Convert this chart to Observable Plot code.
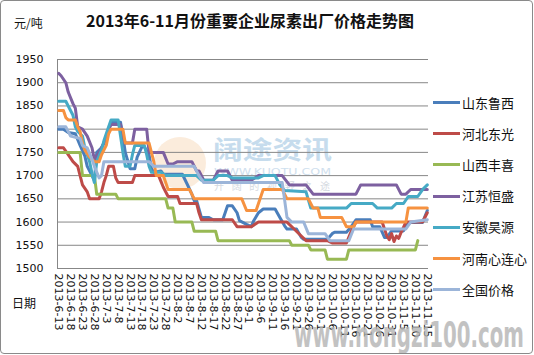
<!DOCTYPE html>
<html><head><meta charset="utf-8">
<script src="https://cdn.jsdelivr.net/npm/d3@7"></script>
<script src="https://cdn.jsdelivr.net/npm/@observablehq/plot@0.6"></script>
<style>
body{margin:0;background:#fff}
#wrap{position:relative;width:534px;height:355px;overflow:hidden;background:#fff}
#wrap svg{position:absolute;left:0;top:0}
.t{position:absolute;white-space:nowrap;font-family:"Noto Sans CJK SC","Noto Sans",sans-serif;color:#111}
#border{position:absolute;left:0;top:0;width:531px;height:352px;border:1px solid #8a8a8a;border-radius:4px;pointer-events:none}
.leg{position:absolute;left:433px;width:27px;height:3px}
</style></head><body>
<div id="wrap"></div>
<script>
const tickLabels = ["6-13","6-18","6-23","6-28","7-3","7-8","7-13","7-18","7-23","7-28","8-2","8-7","8-12","8-17","8-22","8-27","9-1","9-6","9-11","9-16","9-21","9-26","10-1","10-6","10-11","10-16","10-21","10-26","10-31","11-5","11-10","11-15"];
const yTicks = [1500,1550,1600,1650,1700,1750,1800,1850,1900,1950];
const seriesNames = ["山东鲁西","河北东光","山西丰喜","江苏恒盛","安徽昊源","河南心连心","全国价格"];
const seriesColors = ["#4a7ebb","#be4b48","#98b954","#7d60a0","#46aac5","#f69240","#9cb5d9"];

const shandong = [["6-13",1800],["6-15",1800],["6-17",1793],["6-20",1790],["6-22",1765],["6-24",1742],["6-25",1720],["6-27",1700],["6-28",1690],["6-29",1750],["7-1",1760],["7-2",1770],["7-4",1795],["7-5",1815],["7-9",1815],["7-10",1785],["7-11",1750],["7-13",1715],["7-15",1715],["7-16",1740],["7-18",1762],["7-19",1762],["7-21",1745],["7-22",1715],["7-23",1707],["7-26",1710],["7-27",1703],["8-4",1703],["8-6",1682],["8-8",1660],["8-9",1646],["8-10",1646],["8-12",1610],["8-15",1610],["8-17",1605],["8-21",1605],["8-22",1620],["8-23",1635],["8-25",1635],["8-27",1620],["8-28",1603],["8-31",1595],["9-2",1590],["9-3",1603],["9-5",1620],["9-7",1628],["9-12",1628],["9-14",1610],["9-16",1592],["9-17",1585],["9-21",1585],["9-23",1567],["9-24",1563],["10-4",1563],["10-6",1575],["10-7",1578],["10-12",1578],["10-14",1590],["10-16",1605],["10-22",1605],["10-23",1590],["10-26",1590],["10-28",1567],["10-29",1567],["10-31",1581],["11-5",1581],["11-7",1599],["11-13",1599],["11-15",1625]];
const hebei = [["6-13",1760],["6-15",1760],["6-17",1745],["6-19",1730],["6-21",1720],["6-22",1700],["6-23",1680],["6-25",1665],["6-26",1650],["6-30",1650],["7-1",1665],["7-2",1685],["7-3",1700],["7-4",1720],["7-6",1720],["7-7",1695],["7-8",1685],["7-14",1685],["7-15",1700],["7-25",1700],["7-27",1675],["7-29",1655],["8-2",1655],["8-3",1640],["8-10",1640],["8-11",1620],["8-12",1605],["8-25",1605],["8-27",1590],["9-2",1590],["9-5",1600],["9-17",1600],["9-20",1585],["9-23",1570],["9-25",1560],["10-4",1560],["10-6",1555],["10-12",1555],["10-14",1580],["10-16",1600],["10-27",1600],["10-29",1570],["10-30",1562],["10-31",1575],["11-1",1558],["11-2",1570],["11-3",1565],["11-4",1578],["11-6",1600],["11-13",1600],["11-15",1620]];
const shanxi = [["6-13",1750],["6-22",1750],["6-23",1700],["6-28",1700],["6-29",1660],["7-7",1660],["7-8",1650],["7-28",1650],["7-29",1630],["7-31",1630],["8-1",1600],["8-8",1600],["8-9",1580],["8-18",1580],["8-19",1560],["9-18",1560],["9-19",1550],["9-26",1550],["9-27",1540],["10-3",1540],["10-4",1520],["10-12",1520],["10-13",1540],["11-10",1540],["11-11",1560]];
const jiangsu = [["6-13",1920],["6-14",1915],["6-16",1900],["6-17",1880],["6-19",1855],["6-20",1845],["6-21",1805],["6-23",1800],["6-25",1785],["6-27",1760],["6-28",1735],["6-30",1750],["7-2",1770],["7-4",1800],["7-5",1810],["7-9",1810],["7-10",1785],["7-11",1770],["7-14",1770],["7-15",1800],["7-20",1800],["7-21",1750],["7-27",1750],["7-29",1725],["7-31",1725],["8-2",1730],["8-8",1730],["8-10",1710],["8-11",1710],["8-13",1690],["8-17",1690],["8-19",1710],["8-23",1710],["8-25",1690],["9-2",1690],["9-5",1700],["9-15",1700],["9-18",1680],["9-25",1680],["9-28",1660],["10-16",1660],["10-18",1680],["11-2",1680],["11-4",1660],["11-6",1660],["11-8",1670],["11-15",1670]];
const anhui = [["6-13",1860],["6-16",1860],["6-17",1850],["6-19",1830],["6-20",1805],["6-21",1795],["6-23",1785],["6-24",1760],["6-26",1730],["6-27",1705],["6-28",1685],["6-29",1730],["7-1",1755],["7-2",1775],["7-4",1805],["7-5",1820],["7-8",1820],["7-9",1785],["7-10",1750],["7-11",1720],["7-13",1720],["7-14",1745],["7-15",1765],["7-19",1765],["7-20",1745],["7-21",1720],["7-22",1707],["7-26",1707],["7-28",1700],["8-10",1700],["8-12",1690],["8-17",1690],["8-19",1700],["8-23",1700],["8-25",1695],["9-5",1695],["9-7",1700],["9-12",1700],["9-14",1680],["9-16",1668],["9-25",1665],["9-27",1630],["10-12",1630],["10-14",1640],["10-23",1640],["10-25",1630],["10-31",1630],["11-2",1640],["11-5",1640],["11-7",1655],["11-11",1655],["11-13",1670],["11-15",1680]];
const henan = [["6-13",1840],["6-15",1840],["6-16",1825],["6-17",1820],["6-20",1820],["6-21",1805],["6-22",1795],["6-23",1770],["6-24",1755],["6-26",1740],["6-28",1730],["6-30",1730],["7-1",1745],["7-3",1765],["7-4",1790],["7-5",1800],["7-10",1800],["7-11",1770],["7-21",1770],["7-22",1750],["7-23",1730],["7-24",1700],["7-27",1700],["7-29",1670],["8-7",1670],["8-9",1650],["8-29",1650],["8-31",1625],["9-4",1625],["9-7",1670],["9-15",1670],["9-17",1650],["9-26",1650],["9-28",1630],["9-30",1630],["10-1",1610],["10-10",1610],["10-12",1590],["10-15",1590],["10-16",1600],["11-6",1600],["11-7",1630],["11-15",1630]];
const national = [["6-13",1805],["6-16",1805],["6-18",1785],["6-22",1780],["6-23",1765],["6-25",1760],["6-27",1735],["6-28",1720],["6-30",1695],["7-1",1700],["7-2",1730],["7-21",1730],["7-23",1720],["8-9",1720],["8-11",1700],["8-13",1685],["9-15",1685],["9-17",1610],["9-19",1600],["9-24",1600],["9-26",1575],["10-3",1575],["10-5",1560],["10-13",1560],["10-15",1585],["11-6",1585],["11-8",1600],["11-15",1605]];

const seriesData = [shandong, hebei, shanxi, jiangsu, anhui, henan, national];
const parse = s => { const [m, d] = s.split("-").map(Number); return new Date(Date.UTC(2013, m - 1, d)); };
const rows = [];
seriesData.forEach((arr, i) => arr.forEach(([d, v]) => rows.push({series: seriesNames[i], date: parse(d), value: v})));

const chart = Plot.plot({
  width: 534, height: 355,
  marginLeft: 57, marginRight: 106, marginTop: 59, marginBottom: 87,
  style: {fontFamily: "DejaVu Sans", fontSize: "11px", color: "#111", background: "transparent", overflow: "visible"},
  x: {type: "utc", domain: [parse("6-13"), parse("11-15")], insetLeft: 1.2, insetRight: 1.2},
  y: {domain: [1500, 1950]},
  color: {domain: seriesNames, range: seriesColors},
  marks: [
    Plot.ruleY(yTicks, {stroke: "#878787", strokeWidth: 1}),
    Plot.frame({anchor: "left", stroke: "#878787"}),
    Plot.axisY({ticks: yTicks, tickFormat: d => String(d), tickSize: 0, tickPadding: 14, label: null, fontSize: 11}),
    Plot.axisX({ticks: tickLabels.map(parse), tickFormat: d => `2013-${d.getUTCMonth() + 1}-${d.getUTCDate()}`, tickRotate: 90, tickSize: 0, tickPadding: 5, label: null, fontSize: 11}),
    Plot.line(rows, {x: "date", y: "value", z: "series", stroke: "series", strokeWidth: 3, strokeLinejoin: "round", strokeLinecap: "round"})
  ]
});

const wrap = document.getElementById("wrap");

// faint background watermark (behind plot)
const bg = document.createElementNS("http://www.w3.org/2000/svg", "svg");
bg.setAttribute("width", 534); bg.setAttribute("height", 355);
bg.innerHTML = `
  <circle cx="180" cy="163" r="26" fill="#f7dcc0" opacity="0.55"/>
  <text x="213" y="159" font-family="Noto Sans CJK SC" font-weight="bold" font-size="25" fill="#c6dced" textLength="119" lengthAdjust="spacingAndGlyphs">阔途资讯</text>
  <text x="214" y="175" font-family="DejaVu Sans" font-size="9" fill="#cfe0ee" textLength="117" lengthAdjust="spacingAndGlyphs">WWW.KUOTU.COM</text>
  <text x="214" y="190" font-family="Noto Sans CJK SC" font-size="10" fill="#d4d9df" textLength="116" lengthAdjust="spacing">开阔的视野之途</text>`;
wrap.appendChild(bg);
wrap.appendChild(chart);

// top watermark
const fg = document.createElementNS("http://www.w3.org/2000/svg", "svg");
fg.setAttribute("width", 534); fg.setAttribute("height", 355);
fg.style.pointerEvents = "none";
fg.innerHTML = `<text transform="translate(294,347) scale(1,1.55)" font-family="DejaVu Sans Condensed, DejaVu Sans" font-weight="bold" font-size="23" fill="#b4b4b4" opacity="0.8" textLength="230" lengthAdjust="spacingAndGlyphs">www.nongzi100.com</text>`;
wrap.appendChild(fg);

function addText(txt, x, y, css) {
  const el = document.createElement("div");
  el.className = "t"; el.textContent = txt;
  el.style.left = x + "px"; el.style.top = y + "px";
  Object.assign(el.style, css || {});
  wrap.appendChild(el);
  return el;
}
addText("2013年6-11月份重要企业尿素出厂价格走势图", 86, 9, {fontSize: "16px", fontWeight: "bold", lineHeight: "22px"});
addText("元/吨", 14, 13, {fontSize: "12px", lineHeight: "20px"});
addText("日期", 12, 293, {fontSize: "12px", lineHeight: "20px"});

seriesNames.forEach((n, i) => {
  const cy = 102.5 + i * 31.2;
  const l = document.createElement("div");
  l.className = "leg"; l.style.top = (cy - 1.5) + "px"; l.style.background = seriesColors[i];
  wrap.appendChild(l);
  addText(n, 462, cy - 10, {fontSize: "13px", lineHeight: "20px"});
});

const border = document.createElement("div");
border.id = "border";
wrap.appendChild(border);
</script>
</body></html>
